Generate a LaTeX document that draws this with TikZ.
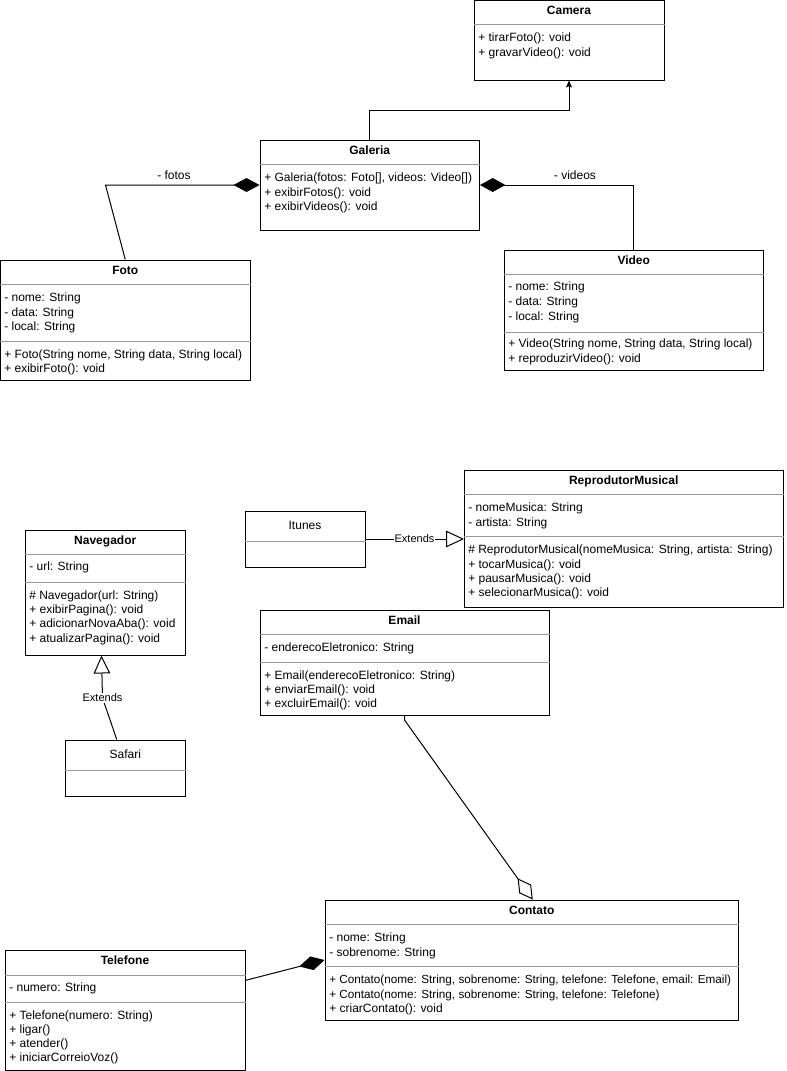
\documentclass[tikz,border=0pt]{standalone}
\usepackage{fontspec}
\setmainfont{Liberation Sans}
\usetikzlibrary{arrows.meta,fit,calc}
\newcounter{rowc}
\newcommand{\umlbox}[5]{\path (#2,#3) coordinate (#1-nw) (#4,#5) coordinate (#1-se);
  \node[classframe, fit=(#1-nw)(#1-se)] (#1) {};}
\newcommand{\umlsep}[2]{\draw[sepline] (#1.west |- 0,#2) -- (#1.east |- 0,#2);}
\newcommand{\umlrow}[4][]{\stepcounter{rowc}\node[rowtext,#1] (row-\arabic{rowc}) at (#2,#3) {#4};}
\newcommand{\umltitle}[4][titletext]{\node[#1] (#2-title) at (#2.north |- 0,#3) {#4};}
\tikzset{
  classframe/.style={draw, line width=0.75pt, inner sep=0pt, fill=white},
  sepline/.style={draw=black!40, line width=0.75pt},
  rowtext/.style={anchor=west, inner sep=0pt, yshift=-0.6pt, text height=6.6pt, text depth=1.9pt, font=\fontsize{9}{10.8}\selectfont},
  titletext/.style={inner sep=0pt, yshift=-0.6pt, text height=6.6pt, text depth=1.9pt, font=\fontsize{9}{10.8}\selectfont\bfseries},
  plaintitle/.style={inner sep=0pt, yshift=-0.6pt, text height=6.6pt, text depth=1.9pt, font=\fontsize{9}{10.8}\selectfont},
  narrowrow/.style={font=\fontsize{8.8}{10.8}\selectfont},
  lbl/.style={inner sep=1pt, font=\fontsize{9}{10.8}\selectfont},
  extlbl/.style={fill=white, inner sep=0.6pt, font=\fontsize{8.25}{10}\selectfont},
  conn/.style={draw, line width=0.75pt},
}
\begin{document}
\begin{tikzpicture}[x=0.75pt, y=-0.75pt]
\useasboundingbox (0,0) rectangle (786,1071);
\fill[white] (0,0) rectangle (786,1071);

% Camera
\umlbox{camera}{474}{0.5}{664}{80}
\umltitle{camera}{11}{Camera}
\umlsep{camera}{24}
\umlrow{478}{38}{+ tirarFoto(): void}
\umlrow{478}{53}{+ gravarVideo(): void}

% Galeria
\umlbox{galeria}{260}{140}{479.5}{230}
\umltitle{galeria}{151}{Galeria}
\umlsep{galeria}{164}
\umlrow{264}{178}{+ Galeria(fotos: Foto[], videos: Video[])}
\umlrow{264}{193}{+ exibirFotos(): void}
\umlrow{264}{207}{+ exibirVideos(): void}

% Foto
\umlbox{foto}{0.5}{260}{250}{380}
\umltitle{foto}{271}{Foto}
\umlsep{foto}{284}
\umlsep{foto}{341}
\umlrow{4}{298}{- nome: String}
\umlrow{4}{313}{- data: String}
\umlrow{4}{327}{- local: String}
\umlrow{4}{355}{+ Foto(String nome, String data, String local)}
\umlrow{4}{369}{+ exibirFoto(): void}

% Video
\umlbox{video}{504}{250}{763.5}{370}
\umltitle{video}{261}{Video}
\umlsep{video}{274}
\umlsep{video}{332}
\umlrow{508}{287}{- nome: String}
\umlrow{508}{302}{- data: String}
\umlrow{508}{317}{- local: String}
\umlrow{508}{344}{+ Video(String nome, String data, String local)}
\umlrow{508}{359}{+ reproduzirVideo(): void}

% ReprodutorMusical
\umlbox{repmus}{464.5}{470}{783}{607}
\umltitle{repmus}{481}{ReprodutorMusical}
\umlsep{repmus}{494}
\umlsep{repmus}{536}
\umlrow{468}{508}{- nomeMusica: String}
\umlrow{468}{522.7}{- artista: String}
\umlrow{468}{550}{\# ReprodutorMusical(nomeMusica: String, artista: String)}
\umlrow{468}{564.7}{+ tocarMusica(): void}
\umlrow{468}{578.7}{+ pausarMusica(): void}
\umlrow{468}{592.7}{+ selecionarMusica(): void}

% Itunes
\umlbox{itunes}{245}{511}{365}{567}
\umltitle[plaintitle]{itunes}{526}{Itunes}
\umlsep{itunes}{541}

% Navegador
\umlbox{navegador}{25.5}{530}{185}{655}
\umltitle{navegador}{541}{Navegador}
\umlsep{navegador}{554}
\umlsep{navegador}{582}
\umlrow{29}{567}{- url: String}
\umlrow{29}{596}{\# Navegador(url: String)}
\umlrow{29}{610}{+ exibirPagina(): void}
\umlrow{29}{624}{+ adicionarNovaAba(): void}
\umlrow{29}{639}{+ atualizarPagina(): void}

% Safari
\umlbox{safari}{65.5}{740}{185}{796}
\umltitle[plaintitle]{safari}{755}{Safari}
\umlsep{safari}{770}

% Email
\umlbox{email}{260}{610}{549}{715}
\umltitle{email}{621}{Email}
\umlsep{email}{634}
\umlsep{email}{662}
\umlrow{264}{648}{- enderecoEletronico: String}
\umlrow{264}{676}{+ Email(enderecoEletronico: String)}
\umlrow{264}{690}{+ enviarEmail(): void}
\umlrow{264}{704}{+ excluirEmail(): void}

% Contato
\umlbox{contato}{325}{900}{738.5}{1020}
\umltitle{contato}{911}{Contato}
\umlsep{contato}{924}
\umlsep{contato}{966}
\umlrow{329}{938}{- nome: String}
\umlrow{329}{953}{- sobrenome: String}
\umlrow[narrowrow]{329}{980}{+ Contato(nome: String, sobrenome: String, telefone: Telefone, email: Email)}
\umlrow[narrowrow]{329}{995}{+ Contato(nome: String, sobrenome: String, telefone: Telefone)}
\umlrow{329}{1009}{+ criarContato(): void}

% Telefone
\umlbox{telefone}{5}{950.7}{245}{1070}
\umltitle{telefone}{961}{Telefone}
\umlsep{telefone}{975}
\umlsep{telefone}{1002}
\umlrow{9}{988}{- numero: String}
\umlrow{9}{1016}{+ Telefone(numero: String)}
\umlrow{9}{1030}{+ ligar()}
\umlrow{9}{1044}{+ atender()}
\umlrow{9}{1058}{+ iniciarCorreioVoz()}

% Connectors
\draw[conn, -{Stealth[length=5.25pt,width=4.5pt,inset=1pt]}] (galeria.north) -- ++(0,-29.5) -| (camera.south);

\draw[conn, {Diamond[length=19.5pt,width=10.5pt]}-] (galeria.west) -- (105.5,185) -- (foto.north);
\node[lbl] (lfotos) at (174,175) {- fotos};

\draw[conn, {Diamond[length=19pt,width=10.5pt]}-] (galeria.east) -| (video.north);
\node[lbl] (lvideos) at (575,175) {- videos};

\draw[conn, -{Triangle[open,length=13.5pt,width=12.5pt,fill=white]}] (itunes.east) -- (itunes.east -| repmus.west);
\node[extlbl] (lext1) at (414.5,539) {Extends};

\coordinate (bend2) at (102.5,698);
\draw[conn, -{Triangle[open,length=13.5pt,width=12.5pt,fill=white]}] ($(safari.north)+(-8.5,0)$) -- (bend2) -- (navegador.south -| 101.5,0);
\node[extlbl] (lext2) at (bend2) {Extends};

\draw[conn, {Diamond[open,length=19.5pt,width=11pt,fill=white]}-] ($(contato.north)+(1,0)$) -- (email.south |- 0,720) -- (email.south);

\draw[conn, -{Diamond[length=19.5pt,width=10.5pt]}] ($(telefone.east)+(0,-30)$) -- (contato.west);
\end{tikzpicture}
\end{document}
